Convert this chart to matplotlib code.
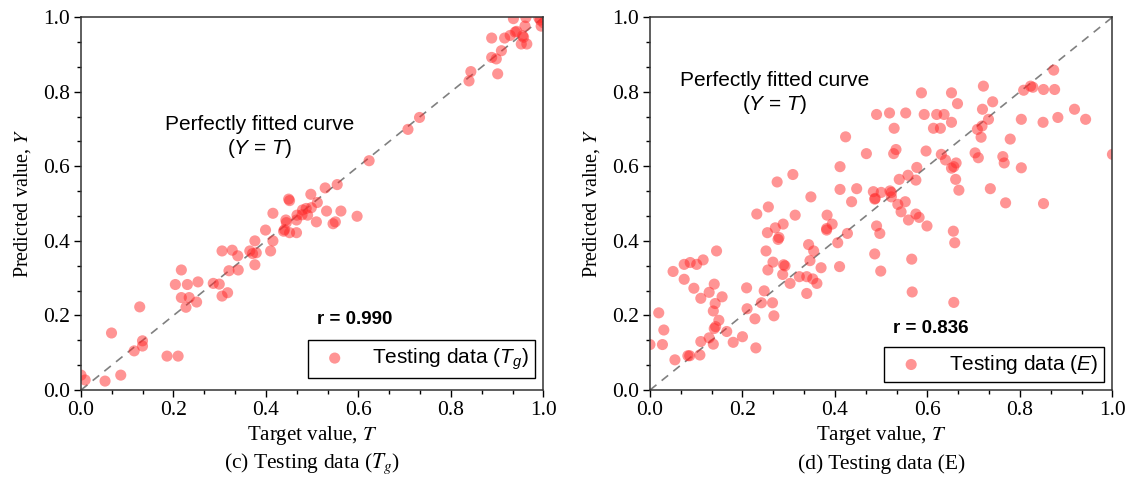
import matplotlib
matplotlib.use('agg')
import matplotlib.pyplot as plt
from matplotlib.ticker import MultipleLocator, AutoMinorLocator

plt.rcParams['mathtext.fontset'] = 'custom'
plt.rcParams['mathtext.rm'] = 'Liberation Sans'
plt.rcParams['mathtext.it'] = 'Liberation Sans:italic'
plt.rcParams['mathtext.bf'] = 'Liberation Sans:bold'

# (c) testing data for Tg
tg_target = [0.0, 0.009, 0.052, 0.086, 0.066, 0.115, 0.133, 0.133, 0.127, 0.186,
             0.21, 0.204, 0.217, 0.23, 0.217, 0.234, 0.227, 0.25, 0.253, 0.286,
             0.299, 0.305, 0.317, 0.305, 0.327, 0.339, 0.32, 0.34, 0.365, 0.371,
             0.379, 0.376, 0.376, 0.41, 0.415, 0.399, 0.415, 0.438, 0.451, 0.466,
             0.443, 0.444, 0.449, 0.451, 0.466, 0.467, 0.49, 0.479, 0.487, 0.498,
             0.509, 0.511, 0.497, 0.528, 0.554, 0.531, 0.562, 0.597, 0.55, 0.545,
             0.623, 0.707, 0.732, 0.839, 0.843, 0.901, 0.888, 0.898, 0.909, 0.888,
             0.916, 0.928, 0.939, 0.942, 0.957, 0.955, 0.952, 0.964, 0.96, 0.935,
             0.962, 0.993, 0.995, 1.0, 0.99, 0.44, 0.478]
tg_pred = [0.04, 0.027, 0.024, 0.04, 0.153, 0.105, 0.132, 0.118, 0.223, 0.091,
           0.091, 0.283, 0.322, 0.283, 0.248, 0.248, 0.222, 0.236, 0.29, 0.286,
           0.284, 0.252, 0.261, 0.373, 0.375, 0.36, 0.32, 0.322, 0.373, 0.366,
           0.368, 0.336, 0.40, 0.373, 0.40, 0.429, 0.474, 0.426, 0.422, 0.422,
           0.456, 0.449, 0.512, 0.508, 0.456, 0.469, 0.469, 0.483, 0.487, 0.489,
           0.451, 0.503, 0.525, 0.542, 0.551, 0.48, 0.48, 0.466, 0.451, 0.446,
           0.615, 0.699, 0.731, 0.829, 0.854, 0.848, 0.892, 0.888, 0.91, 0.944,
           0.944, 0.951, 0.96, 0.962, 0.946, 0.95, 0.928, 0.928, 0.976, 0.996,
           0.999, 0.992, 0.976, 0.985, 0.998, 0.43, 0.47]

# (d) testing data for E
e_target = [0.0, 0.027, 0.019, 0.030, 0.054, 0.082, 0.086, 0.108, 0.11, 0.128,
            0.137, 0.139, 0.142, 0.166, 0.149, 0.137, 0.141, 0.156, 0.128, 0.11,
            0.095, 0.139, 0.074, 0.05, 0.074, 0.087, 0.101, 0.115, 0.144, 0.18,
            0.2, 0.229, 0.209, 0.21, 0.227, 0.241, 0.247, 0.265, 0.268, 0.255,
            0.266, 0.251, 0.277, 0.254, 0.289, 0.292, 0.287, 0.303, 0.323, 0.339,
            0.352, 0.361, 0.339, 0.37, 0.346, 0.354, 0.343, 0.382, 0.41, 0.406,
            0.427, 0.486, 0.499,
            0.49, 0.423, 0.468, 0.411, 0.309, 0.275, 0.411, 0.447, 0.483, 0.487,
            0.348, 0.256, 0.231, 0.314, 0.436, 0.383, 0.394, 0.382, 0.288, 0.271,
            0.279, 0.49, 0.497,
            0.873, 0.823, 0.828, 0.808, 0.851, 0.875, 0.918, 0.942, 0.882, 0.85,
            0.803, 0.721, 0.741, 0.719, 0.732, 0.718, 0.708, 0.716, 0.779, 0.652,
            0.665, 0.587, 0.553, 0.518, 0.528, 0.593, 0.62, 0.636, 0.652, 0.613,
            0.628, 0.532, 0.527, 0.597, 0.63, 0.639, 0.662, 0.657, 0.652, 0.661,
            0.668, 0.703, 0.71, 0.763, 0.766, 0.803, 0.736, 0.769, 0.851, 0.577,
            0.558, 0.539, 0.575, 0.5, 0.519, 0.522, 0.522, 0.486, 0.536, 0.552,
            0.543, 0.575, 0.582, 0.559, 0.599, 0.656, 0.659, 0.566, 0.567, 0.657,
            1.0]
e_pred = [0.122, 0.122, 0.207, 0.161, 0.081, 0.092, 0.092, 0.094, 0.13, 0.14,
          0.123, 0.165, 0.17, 0.157, 0.187, 0.212, 0.232, 0.25, 0.262, 0.246,
          0.273, 0.284, 0.297, 0.318, 0.337, 0.342, 0.337, 0.349, 0.373, 0.128,
          0.143, 0.113, 0.274, 0.218, 0.191, 0.234, 0.266, 0.234, 0.199, 0.322,
          0.343, 0.373, 0.404, 0.422, 0.336, 0.333, 0.31, 0.286, 0.304, 0.304,
          0.298, 0.286, 0.259, 0.328, 0.347, 0.373, 0.39, 0.429, 0.331, 0.395,
          0.42, 0.365, 0.319,
          0.739, 0.679, 0.634, 0.599, 0.578, 0.558, 0.538, 0.54, 0.532, 0.514,
          0.518, 0.491, 0.472, 0.469, 0.505, 0.469, 0.445, 0.433, 0.445, 0.435,
          0.409, 0.44, 0.42,
          0.858, 0.815, 0.812, 0.804, 0.806, 0.806, 0.753, 0.726, 0.731, 0.718,
          0.726, 0.815, 0.773, 0.753, 0.726, 0.708, 0.699, 0.678, 0.673, 0.797,
          0.768, 0.797, 0.743, 0.743, 0.702, 0.739, 0.739, 0.739, 0.718, 0.702,
          0.702, 0.645, 0.634, 0.641, 0.632, 0.617, 0.609, 0.599, 0.595, 0.565,
          0.536, 0.636, 0.623, 0.626, 0.609, 0.596, 0.54, 0.502, 0.5, 0.597,
          0.576, 0.565, 0.563, 0.53, 0.534, 0.53, 0.518, 0.512, 0.498, 0.505,
          0.478, 0.472, 0.463, 0.456, 0.44, 0.426, 0.395, 0.351, 0.263, 0.235,
          0.632]

panels = [
    dict(x=tg_target, y=tg_pred, r='r = 0.990', leg='Testing data ($T_g$)',
         cap='(c) Testing data ($T_g$)', note=(0.387, 0.678),
         rpos=(0.51, 0.19), legpos=(0.982, 0.032)),
    dict(x=e_target, y=e_pred, r='r = 0.836', leg='Testing data ($E$)',
         cap='(d) Testing data (E)', note=(0.27, 0.796),
         rpos=(0.526, 0.166), legpos=(0.982, 0.021)),
]

fig = plt.figure(figsize=(11.28, 4.9), dpi=100)
lefts = [0.0718, 0.5762]
serif = 'Liberation Serif'
sans = 'Liberation Sans'

for left, p in zip(lefts, panels):
    ax = fig.add_axes([left, 0.204, 0.4100, 0.761])
    ax.plot([0, 1], [0, 1], ls=(0, (5, 4)), color='#808080', lw=1.2, zorder=1)
    ax.scatter(p['x'], p['y'], s=64, color='#ff2a2a', alpha=0.5,
               edgecolors='none', zorder=2, label=p['leg'])
    ax.set_xlim(0, 1)
    ax.set_ylim(0, 1)
    ax.xaxis.set_major_locator(MultipleLocator(0.2))
    ax.yaxis.set_major_locator(MultipleLocator(0.2))
    ax.xaxis.set_minor_locator(AutoMinorLocator(3))
    ax.yaxis.set_minor_locator(AutoMinorLocator(3))
    ax.tick_params(which='both', direction='out', top=False, right=False,
                   width=1.0, colors='black')
    ax.tick_params(which='major', length=5, labelsize=15.5, pad=3)
    ax.tick_params(which='minor', length=3)
    for lab in ax.get_xticklabels() + ax.get_yticklabels():
        lab.set_fontfamily(serif)
    for sp in ax.spines.values():
        sp.set_linewidth(1.1)
        sp.set_color('#333333')
    ax.set_xlabel('Target value, $T$', fontsize=15, fontfamily=serif,
                  math_fontfamily='stix', labelpad=3)
    ax.set_ylabel('Predicted value, $Y$', fontsize=14.5, fontfamily=serif,
                  math_fontfamily='stix', labelpad=7)
    ax.text(p['note'][0], p['note'][1],
            'Perfectly fitted curve\n($Y$ = $T$)', ha='center', va='center',
            fontsize=15, fontfamily=sans, transform=ax.transAxes,
            linespacing=1.2)
    ax.text(p['rpos'][0], p['rpos'][1], p['r'], fontsize=13.5, fontweight='bold',
            fontfamily=sans, transform=ax.transAxes, va='center')
    leg = ax.legend(loc='lower right', bbox_to_anchor=p['legpos'],
                    borderaxespad=0, fancybox=False, framealpha=1,
                    edgecolor='black', prop={'family': sans, 'size': 15},
                    handletextpad=0.8, borderpad=0.3, markerscale=1.0)
    leg.get_frame().set_linewidth(1.0)
    fig.text(left + 0.205, 0.053, p['cap'], ha='center', va='center',
             fontsize=15.5, fontfamily=serif, math_fontfamily='stix')

fig.savefig('out.png', dpi=100)
